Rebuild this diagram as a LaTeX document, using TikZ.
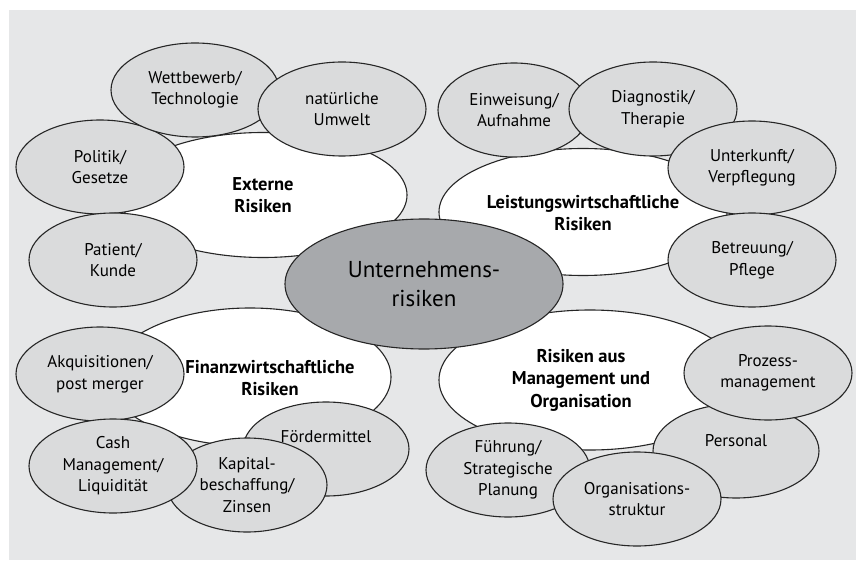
\documentclass[tikz,border=0pt]{standalone}
\usepackage{xcolor}
\usepackage{fontspec}
\setmainfont{PT Sans}
\usepackage{tikz}
\usetikzlibrary{shapes.geometric}
\definecolor{bggray}{HTML}{E6E7E8}
\definecolor{itemgray}{HTML}{DADBDC}
\definecolor{coregray}{HTML}{A7A9AC}

\begin{document}
\begin{tikzpicture}[x=1pt,y=-1pt,
  blob/.style={ellipse,draw=black!85,line width=1.1pt,inner sep=0pt,align=center},
  group/.style={blob,fill=white},
  grouptext/.style={align=center,font=\bfseries\fontsize{18.5}{22.5}\selectfont},
  item/.style={blob,fill=itemgray,minimum width=168pt,minimum height=94pt,font=\fontsize{17}{21.5}\selectfont},
  core/.style={blob,fill=coregray,minimum width=278pt,minimum height=130pt,font=\fontsize{23}{29.5}\selectfont}]
\useasboundingbox (0,0) rectangle (856,561);
\fill[bggray] (9,10) rectangle (856,560);

\node[group,minimum width=288pt,minimum height=125pt] (ext) at (263,195) {};
\node[group,minimum width=288pt,minimum height=127pt] (leist) at (583,212) {};
\node[group,minimum width=282pt,minimum height=138pt] (fin) at (250,377) {};
\node[group,minimum width=302pt,minimum height=140pt] (mgmt) at (590,380) {};
\node[grouptext] (ext-text) at (263,195) {Externe\\Risiken};
\node[grouptext] (leist-text) at (583,213) {Leistungswirtschaftliche\\Risiken};
\node[grouptext] (fin-text) at (270,378) {Finanzwirtschaftliche\\Risiken};
\node[grouptext] (mgmt-text) at (581,380) {Risiken aus\\Management und\\Organisation};

\node[core] (core) at (424,284) {Unternehmens-\\risiken};

\node[item] (politik) at (100,167) {Politik/\\Gesetze};
\node[item] (wettbewerb) at (195,90) {Wettbewerb/\\Technologie};
\node[item] (umwelt) at (342,109) {natürliche\\Umwelt};
\node[item] (patient) at (113,260) {Patient/\\Kunde};

\node[item,minimum width=152pt] (einweisung) at (514,110) {Einweisung/\\Aufnahme};
\node[item] (diagnostik) at (653,109) {Diagnostik/\\Therapie};
\node[item] (unterkunft) at (752,168) {Unterkunft/\\Verpflegung};
\node[item] (betreuung) at (752,260) {Betreuung/\\Pflege};

\node[item] (akquisition) at (100,374) {Akquisitionen/\\post merger};
\node[item,minimum width=166pt] (foerder) at (326,449) {Fördermittel\\[4pt]~};
\node[item,minimum width=160pt] (kapital) at (247,485) {Kapital-\\beschaffung/\\Zinsen};
\node[item] (cash) at (113,466) {Cash\\Management/\\Liquidität};

\node[item,minimum width=166pt] (personal) at (736,451) {Personal\\~};
\node[item] (prozess) at (768,373) {Prozess-\\management};
\node[item,minimum width=164pt] (fuehrung) at (508,470) {Führung/\\Strategische\\Planung};
\node[item] (orga) at (637,499) {Organisations-\\struktur};
\end{tikzpicture}
\end{document}
